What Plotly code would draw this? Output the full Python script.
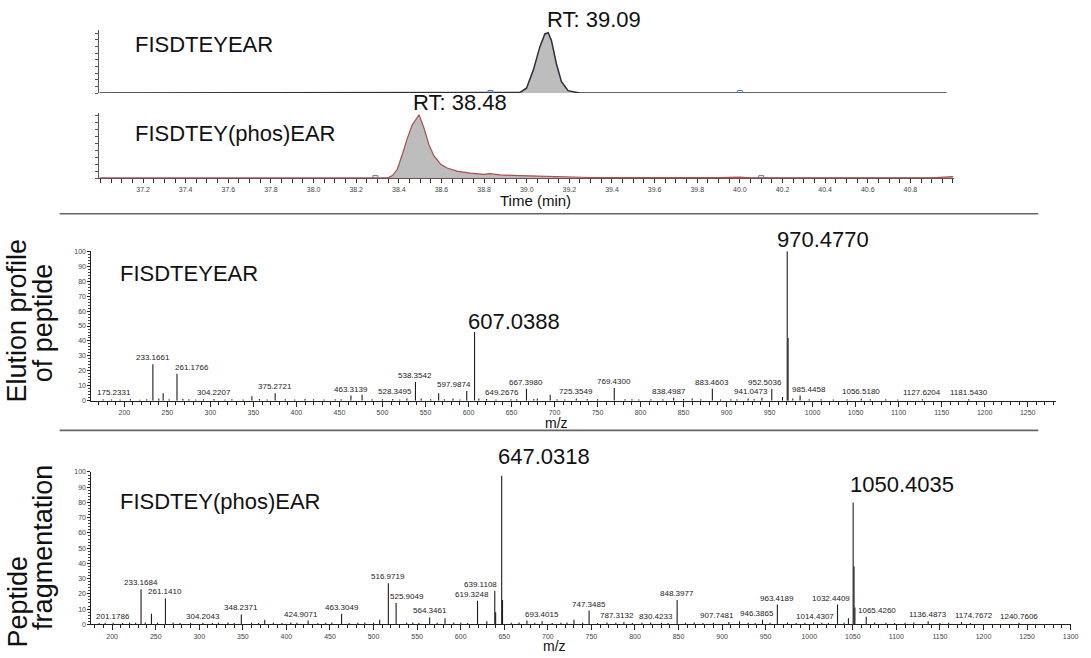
import plotly.graph_objects as go

# ------------------------------------------------------------------
# DATA
# ------------------------------------------------------------------
# Extracted ion chromatogram 1 : FISDTEYEAR
chrom1_time = [36.995, 38.80, 38.968, 38.999, 39.031, 39.062, 39.085, 39.101,
               39.116, 39.139, 39.163, 39.194, 39.248, 40.97]
chrom1_int = [0, 0, 1, 8, 38, 77, 98, 100, 87, 49, 19, 4, 0, 0]
chrom1_marks = [38.83, 40.00]

# Extracted ion chromatogram 2 : FISDTEY(phos)EAR
chrom2_time = [36.995, 38.30, 38.347, 38.370, 38.393, 38.417, 38.440, 38.463,
               38.495, 38.518, 38.541, 38.565, 38.596, 38.627, 38.673, 38.735,
               38.798, 38.828, 38.875, 38.968, 39.077, 39.233, 39.30, 39.90,
               40.00, 40.05, 40.38, 40.42, 40.46, 40.90, 41.00]
chrom2_int = [0, 0, 0, 4, 14, 38, 63, 84, 100, 79, 53, 35, 22, 16, 11, 8, 6, 7,
              5, 4, 3, 1.5, 1, 1, 1.5, 0.5, 0.5, 1.5, 0.5, 0.5, 2.5]
chrom2_marks = [38.29, 40.10]

time_ticks = [37.2, 37.4, 37.6, 37.8, 38.0, 38.2, 38.4, 38.6, 38.8, 39.0,
              39.2, 39.4, 39.6, 39.8, 40.0, 40.2, 40.4, 40.6, 40.8]
time_ticktext = ["37.2", "37.4", "37.6", "37.8", "38.0", "38.2", "38.4", "38.6",
                 "38.8", "39.0", "39.2", "39.4", "39.6", "39.8", "40.0", "40.2",
                 "40.4", "40.6", "40.8"]

# MS spectrum 1 : FISDTEYEAR  (labelled peaks)
ms1_lab_mz = [175.2331, 233.1661, 261.1766, 304.2207, 375.2721, 463.3139,
              528.3495, 538.3542, 597.9874, 607.0388, 649.2676, 667.3980,
              725.3549, 769.4300, 838.4987, 883.4603, 941.0473, 952.5036,
              970.4770, 985.4458, 1056.5180, 1127.6204, 1181.5430]
ms1_lab_int = [1.0, 24.5, 18, 1.2, 5, 3.5, 1.5, 12.5, 6.5, 46, 1.0, 8, 1.5,
               8.5, 2, 8, 2, 8, 100, 3.5, 1.5, 1.0, 1.0]
# unlabelled peaks / baseline noise
ms1_oth_mz = [185, 195, 207, 218, 226, 240, 245.1, 252, 268, 275, 283, 292, 317,
              325, 338, 348.2, 357, 366, 387, 398, 410, 420, 432, 445, 452,
              476.3, 488, 500, 512, 520, 545, 556, 565.3, 572, 582, 590, 612,
              621, 632, 656, 676, 680, 695, 703, 712, 738, 750, 782, 790, 798,
              812, 826, 850, 860, 870, 893, 905, 912, 925, 932, 965, 971.48,
              977, 996, 1010, 1024, 1040, 1067, 1085, 1099]
ms1_oth_int = [0.8, 0.8, 1.2, 0.7, 1.0, 1.5, 5, 1.0, 1.2, 1.0, 0.8, 1.0, 0.8,
               1.0, 0.8, 3, 1.2, 0.8, 1.0, 0.8, 1.2, 1.0, 0.8, 1.0, 1.0,
               4, 1.0, 1.0, 1.2, 0.8, 1.5, 1.0, 5, 1.0, 1.5, 0.8, 1.5,
               1.2, 0.8, 1.0, 1.2, 1.5, 4, 1.0, 0.8, 1.2, 1.0, 1.0, 1.0, 0.8,
               1.0, 1.0, 1.2, 1.5, 1.0, 0.8, 1.0, 1.0, 1.5, 1.2, 2.5, 42,
               1.5, 1.0, 1.0, 0.8, 1.0, 1.0, 1.0, 0.8]

# MS spectrum 2 : FISDTEY(phos)EAR  (labelled peaks)
ms2_lab_mz = [201.1786, 233.1684, 261.1410, 304.2043, 348.2371, 424.9071,
              463.3049, 516.9719, 525.9049, 564.3461, 619.3248, 639.1108,
              647.0318, 693.4015, 747.3485, 787.3132, 830.4233, 848.3977,
              907.7481, 946.3865, 963.4189, 1014.4307, 1032.4409, 1050.4035,
              1065.4260, 1136.4873, 1174.7672, 1240.7606]
ms2_lab_int = [1.0, 23, 17, 1.0, 6.5, 2.5, 7, 27, 14, 4.5, 15.5, 22, 97.5, 2,
               9, 1.5, 1.0, 16, 1.5, 3, 13, 1.0, 13, 80, 5, 2, 1.5, 1.0]
ms2_oth_mz = [185, 192, 212, 220, 227, 238, 245.1, 252, 270, 278, 290, 315, 322,
              333, 340, 360, 368, 375.1, 385, 395, 405, 412, 436, 445, 452, 472,
              482, 490, 500, 507, 538, 545, 552, 573, 582, 592, 600, 608, 630,
              640.1, 648.0, 658, 667, 676, 685, 705, 715, 722, 730, 740, 757,
              768, 778, 797, 808, 818, 838, 858, 868, 878, 890, 920, 930, 938,
              955, 975, 985, 995, 1005, 1022, 1040, 1045, 1051.4, 1052.4, 1075,
              1088, 1098, 1110, 1120, 1150, 1160, 1185]
ms2_oth_int = [0.8, 1.0, 0.8, 1.2, 1.0, 1.2, 7, 1.0, 1.2, 0.8, 1.0, 0.8, 1.0,
               1.2, 0.8, 1.0, 0.8, 3, 1.0, 0.8, 1.2, 1.0, 0.8, 1.0, 1.2, 0.8,
               1.0, 1.2, 1.0, 3, 1.0, 1.2, 0.8, 1.0, 4, 1.2, 1.0, 0.8, 2,
               8, 16, 1.0, 1.2, 2.5, 1.0, 0.8, 1.0, 1.2, 3, 1.0, 0.8, 1.2, 1.0,
               0.8, 1.0, 1.2, 0.8, 1.0, 1.2, 0.8, 1.0, 2, 1.0, 0.8, 1.0, 1.2,
               0.8, 1.0, 1.2, 0.8, 1.0, 4, 38, 11, 1.2, 1.0, 0.8, 1.0, 1.2, 0.8,
               1.0, 0.8]

# ------------------------------------------------------------------
# STYLE / LAYOUT
# ------------------------------------------------------------------
W, H = 1091, 658
FONT = "Liberation Sans, Arial, Helvetica, sans-serif"


def px(x):
    return x / W


def py(y):
    return 1 - y / H


big_labels = {"607.0388": (-9, -4), "970.4770": (-12, -3),
              "647.0318": (-6, 5), "1050.4035": (-5, 3)}
ms1_shift = {"175.2331": 11, "261.1766": 15, "528.3495": -12, "597.9874": -13,
             "649.2676": -9, "838.4987": -5, "941.0473": -11, "952.5036": -7,
             "985.4458": 9}
ms2_shift = {"424.9071": -7, "525.9049": 11, "619.3248": -6, "639.1108": -14,
             "787.3132": -7, "830.4233": -5, "907.7481": -12, "946.3865": -6,
             "1014.4307": -7, "1032.4409": -7, "1065.4260": 11, "1174.7672": 12}


def sticks(mz, inten):
    xs, ys = [], []
    for m, h in zip(mz, inten):
        xs += [m, m, None]
        ys += [0, h, None]
    return xs, ys


fig = go.Figure()

# chromatogram 1
fig.add_trace(go.Scatter(x=chrom1_time, y=chrom1_int, mode="lines",
                         line=dict(color="#2e2e3c", width=1.5),
                         fill="tozeroy", fillcolor="#bdbdbd",
                         xaxis="x", yaxis="y", hoverinfo="skip"))
fig.add_trace(go.Scatter(x=chrom1_marks, y=[0] * len(chrom1_marks), mode="markers",
                         marker=dict(symbol="square-open", size=5, color="#5577bb"),
                         xaxis="x", yaxis="y", hoverinfo="skip"))
# chromatogram 2
fig.add_trace(go.Scatter(x=[chrom2_time[0], chrom2_time[-1]], y=[0, 0], mode="lines",
                         line=dict(color="#5a6ea8", width=1.2),
                         xaxis="x2", yaxis="y2", hoverinfo="skip"))
fig.add_trace(go.Scatter(x=chrom2_time, y=chrom2_int, mode="lines",
                         line=dict(color="#a8504c", width=1.2),
                         fill="tozeroy", fillcolor="rgba(185,185,185,0.95)",
                         xaxis="x2", yaxis="y2", hoverinfo="skip"))
fig.add_trace(go.Scatter(x=chrom2_marks, y=[0] * len(chrom2_marks), mode="markers",
                         marker=dict(symbol="square-open", size=5, color="#5577bb"),
                         xaxis="x2", yaxis="y2", hoverinfo="skip"))

# spectra
for mzs, ints, ax, ay in [(ms1_oth_mz, ms1_oth_int, "x3", "y3"),
                          (ms1_lab_mz, ms1_lab_int, "x3", "y3"),
                          (ms2_oth_mz, ms2_oth_int, "x4", "y4"),
                          (ms2_lab_mz, ms2_lab_int, "x4", "y4")]:
    sx, sy = sticks(mzs, ints)
    fig.add_trace(go.Scatter(x=sx, y=sy, mode="lines",
                             line=dict(color="#1e1e1e", width=1.1),
                             xaxis=ax, yaxis=ay, hoverinfo="skip"))

annotations = []


def add_peak_labels(mzs, ints, shifts, xref, yref):
    for m, h in zip(mzs, ints):
        txt = f"{m:.4f}"
        if txt in big_labels:
            xs, ys = big_labels[txt]
            annotations.append(dict(x=m, y=h, xref=xref, yref=yref, text=txt,
                                    showarrow=False, xanchor="left", yanchor="bottom",
                                    xshift=xs, yshift=ys,
                                    font=dict(family=FONT, size=22, color="#111")))
        else:
            annotations.append(dict(x=m, y=h, xref=xref, yref=yref, text=txt,
                                    showarrow=False, xanchor="center", yanchor="bottom",
                                    xshift=shifts.get(txt, 0), yshift=0,
                                    font=dict(family=FONT, size=8, color="#222")))


add_peak_labels(ms1_lab_mz, ms1_lab_int, ms1_shift, "x3", "y3")
add_peak_labels(ms2_lab_mz, ms2_lab_int, ms2_shift, "x4", "y4")


def paper_text(text, x, y, size, xanchor="left", angle=0, color="#111"):
    annotations.append(dict(x=px(x), y=py(y), xref="paper", yref="paper", text=text,
                            showarrow=False, xanchor=xanchor, yanchor="middle",
                            textangle=angle,
                            font=dict(family=FONT, size=size, color=color)))


paper_text("FISDTEYEAR", 134, 41, 22)
paper_text("RT: 39.09", 549, 16, 22)
paper_text("FISDTEY(phos)EAR", 134, 131, 22)
paper_text("RT: 38.48", 414, 100, 22)
paper_text("Time (min)", 539, 199, 15, xanchor="center")
paper_text("FISDTEYEAR", 119, 272, 22)
paper_text("m/z", 560, 424, 14, xanchor="center")
paper_text("FISDTEY(phos)EAR", 119, 503, 22)
paper_text("m/z", 558, 649, 14, xanchor="center")
paper_text("Elution profile", 17, 320, 27, xanchor="center", angle=-90)
paper_text("of peptide", 43, 322, 27, xanchor="center", angle=-90)
paper_text("Peptide", 18, 604, 27, xanchor="center", angle=-90)
paper_text("fragmentation", 43, 549, 27, xanchor="center", angle=-90)

shapes = [
    dict(type="line", xref="paper", yref="paper", x0=px(60), x1=px(1045),
         y0=py(212), y1=py(212), line=dict(color="#666", width=1.6)),
    dict(type="line", xref="paper", yref="paper", x0=px(60), x1=px(1045),
         y0=py(431), y1=py(431), line=dict(color="#666", width=1.6)),
]

tickfont = dict(family=FONT, size=7, color="#444")
chrom_x_dom = [px(100), px(960)]
chrom_range = [36.995, 41.004]

fig.update_layout(
    width=W, height=H, autosize=False,
    margin=dict(l=0, r=0, t=0, b=0, pad=0),
    paper_bgcolor="white", plot_bgcolor="white",
    showlegend=False,
    annotations=annotations, shapes=shapes,
    xaxis=dict(domain=chrom_x_dom, range=chrom_range, anchor="y", visible=False),
    yaxis=dict(domain=[py(90), py(26)], range=[0, 105], anchor="x",
               showline=True, linecolor="#555", linewidth=1, ticks="outside",
               ticklen=3, tickcolor="#555", dtick=11, showticklabels=False,
               showgrid=False, zeroline=False),
    xaxis2=dict(domain=chrom_x_dom, range=chrom_range, anchor="y2",
                showline=True, linecolor="#7a4a50", linewidth=1.2,
                tickmode="array", tickvals=time_ticks, ticktext=time_ticktext,
                ticks="outside", ticklen=4, tickcolor="#333", tickfont=tickfont,
                minor=dict(dtick=0.05, tick0=37.0, ticks="outside", ticklen=4,
                           tickcolor="#333"),
                showgrid=False, zeroline=False),
    yaxis2=dict(domain=[py(176), py(110)], range=[0, 103], anchor="x2",
                showline=True, linecolor="#555", linewidth=1, ticks="outside",
                ticklen=3, tickcolor="#555", dtick=11, showticklabels=False,
                showgrid=False, zeroline=False),
    xaxis3=dict(domain=[px(92), px(1063)], range=[161.7, 1283.1], anchor="y3",
                showline=True, linecolor="#222", linewidth=1.3,
                tick0=0, dtick=50, ticks="outside", ticklen=5, tickcolor="#222",
                tickfont=tickfont,
                minor=dict(dtick=10, ticks="outside", ticklen=3, tickcolor="#222"),
                showgrid=False, zeroline=False),
    yaxis3=dict(domain=[py(401), py(250)], range=[0, 100], anchor="x3",
                showline=True, linecolor="#222", linewidth=1,
                tick0=0, dtick=10, ticks="outside", ticklen=3, tickcolor="#222",
                tickfont=tickfont,
                minor=dict(dtick=2, ticks="outside", ticklen=2, tickcolor="#444"),
                showgrid=False, zeroline=False),
    xaxis4=dict(domain=[px(92), px(1078)], range=[176.2, 1300.5], anchor="y4",
                showline=True, linecolor="#222", linewidth=1.3,
                tick0=0, dtick=50, ticks="outside", ticklen=5, tickcolor="#222",
                tickfont=tickfont,
                minor=dict(dtick=10, ticks="outside", ticklen=3, tickcolor="#222"),
                showgrid=False, zeroline=False),
    yaxis4=dict(domain=[py(627), py(473)], range=[0, 100], anchor="x4",
                showline=True, linecolor="#222", linewidth=1,
                tick0=0, dtick=10, ticks="outside", ticklen=3, tickcolor="#222",
                tickfont=tickfont,
                minor=dict(dtick=2, ticks="outside", ticklen=2, tickcolor="#444"),
                showgrid=False, zeroline=False),
)

fig.write_html("out.html")
